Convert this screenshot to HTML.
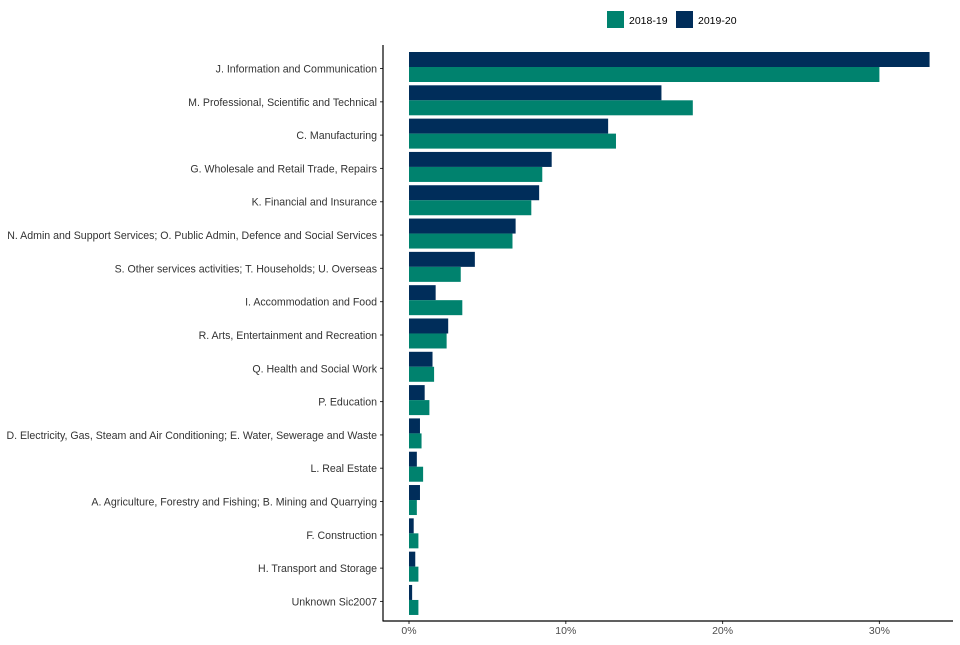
<!DOCTYPE html>
<html><head><meta charset="utf-8"><style>
body{margin:0;background:#fff;font-family:"Liberation Sans",sans-serif}
</style></head><body>
<svg id="c" width="960" height="640" xmlns="http://www.w3.org/2000/svg" font-family="Liberation Sans, sans-serif"></svg>
<script>
const categories=["J. Information and Communication","M. Professional, Scientific and Technical","C. Manufacturing","G. Wholesale and Retail Trade, Repairs","K. Financial and Insurance","N. Admin and Support Services; O. Public Admin, Defence and Social Services","S. Other services activities; T. Households; U. Overseas","I. Accommodation and Food","R. Arts, Entertainment and Recreation","Q. Health and Social Work","P. Education","D. Electricity, Gas, Steam and Air Conditioning; E. Water, Sewerage and Waste","L. Real Estate","A. Agriculture, Forestry and Fishing; B. Mining and Quarrying","F. Construction","H. Transport and Storage","Unknown Sic2007"];
const values2018=[30.0,18.1,13.2,8.5,7.8,6.6,3.3,3.4,2.4,1.6,1.3,0.8,0.9,0.5,0.6,0.6,0.6];
const values2019=[33.2,16.1,12.7,9.1,8.3,6.8,4.2,1.7,2.5,1.5,1.0,0.7,0.5,0.7,0.3,0.4,0.2];
const ticks=[0,10,20,30];
const tickLabels=["0%","10%","20%","30%"];
const svg=document.getElementById('c');
const NS="http://www.w3.org/2000/svg";
const x=v=>409+v*15.68;
const yc=i=>67+i*33.31;
function mk(t,a){const e=document.createElementNS(NS,t);for(const k in a)e.setAttribute(k,a[k]);svg.appendChild(e);return e;}
categories.forEach((c,i)=>{
  let r=mk('rect',{x:x(0),y:yc(i)-15,width:x(values2019[i])-x(0),height:15,fill:'#002d5a'});
  
  
  r=mk('rect',{x:x(0),y:yc(i),width:x(values2018[i])-x(0),height:15,fill:'#00826e'});
  
  
  let t=mk('text',{x:377,y:yc(i)+5.5,'text-anchor':'end','font-size':'10.6',fill:'#333'});
  t.textContent=c;
  
  
  let l=mk('line',{x1:380,x2:383,y1:yc(i)+1.5,y2:yc(i)+1.5,stroke:'#333'});
  
  
});
ticks.forEach((v,i)=>{
  let l=mk('line',{x1:x(v),x2:x(v),y1:621,y2:624,stroke:'#333'});
  
  
  let t=mk('text',{x:x(v),y:634,'text-anchor':'middle','font-size':'10.5',fill:'#4d4d4d'});
  t.textContent=tickLabels[i];
  
  
});
let a=mk('line',{x1:383,x2:383,y1:45,y2:621.5,stroke:'#000','stroke-width':1.2});


a=mk('line',{x1:383,x2:953,y1:621,y2:621,stroke:'#000','stroke-width':1.2});


[["#00826e","2018-19",607],["#002d5a","2019-20",676]].forEach(d=>{
  let r=mk('rect',{x:d[2],y:11,width:17,height:17,fill:d[0]});
  
  
  let t=mk('text',{x:d[2]+22,y:24,'font-size':'10.5',fill:'#000'});
  t.textContent=d[1];
  
  
});
</script>
</body></html>
